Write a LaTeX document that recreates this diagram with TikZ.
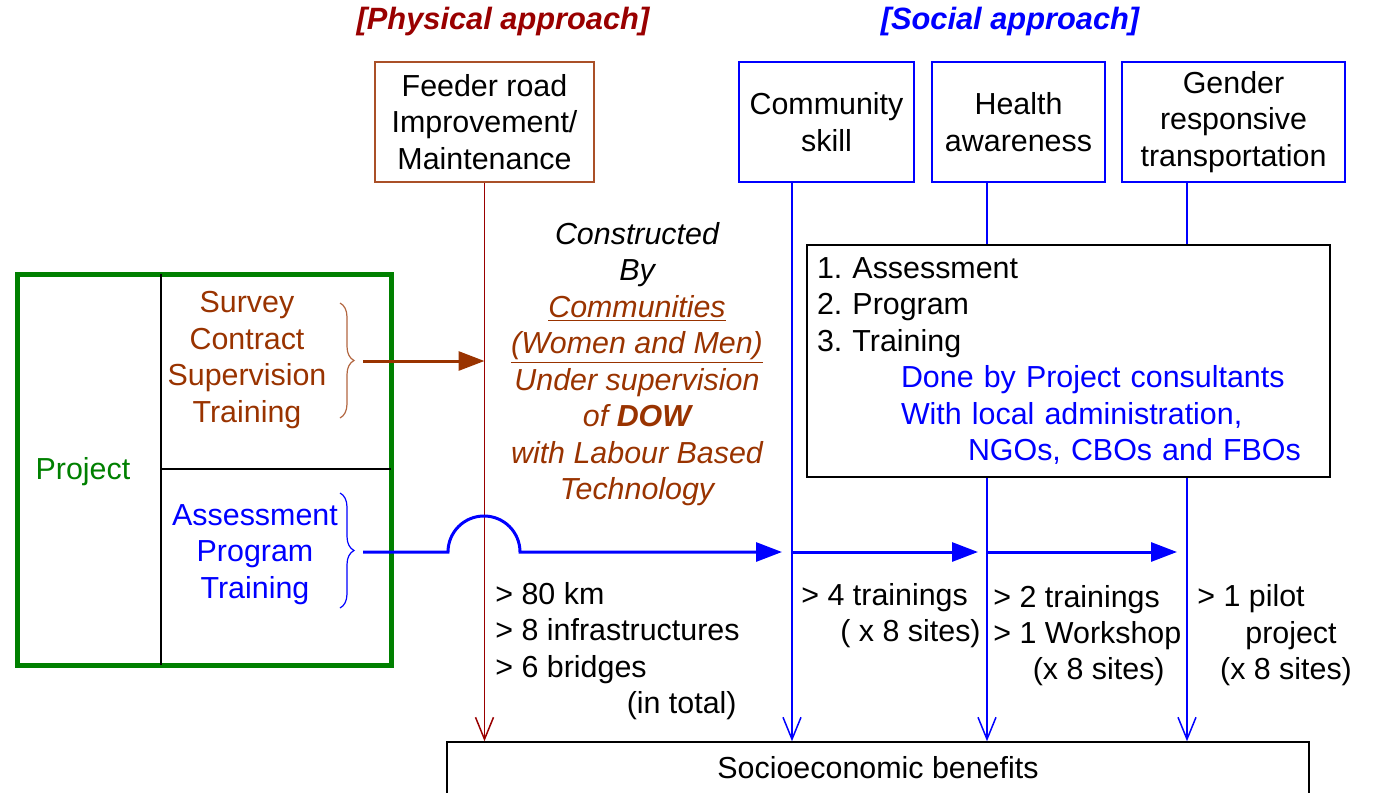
\documentclass[tikz,border=0pt]{standalone}
\usepackage{fontspec}
\setmainfont{Liberation Sans}
\usetikzlibrary{positioning,arrows.meta,decorations.pathreplacing}

\definecolor{physred}{RGB}{153,0,0}
\definecolor{brownc}{RGB}{153,51,0}
\definecolor{boxbrown}{RGB}{170,80,40}
\definecolor{projgreen}{RGB}{0,128,0}

\begin{document}
\frenchspacing
\begin{tikzpicture}[x=0.5pt,y=-0.5pt]
    \tikzset{every node/.style={inner sep=0,font=\fontsize{15.2}{18.25}\selectfont},
             header/.style={font=\fontsize{15.4}{18.25}\selectfont\bfseries\itshape},
             physbox/.style={draw=boxbrown,line width=0.75pt,align=center,minimum height=60pt},
             socbox/.style={draw=blue,line width=0.75pt,align=center,minimum height=60pt},
             physline/.style={draw=physred,line width=0.75pt,-{Straight Barb[length=11pt,width=9pt]}},
             socline/.style={draw=blue,line width=0.75pt,-{Straight Barb[length=11pt,width=9pt]}},
             flow/.style={line width=1.5pt,-{Triangle[length=13pt,width=9.5pt]}},
             bracket/.style={decorate,decoration={brace,amplitude=7pt},line width=0.6pt}}
    \clip (0,0) rectangle (1373,793);
    \useasboundingbox (0,0) rectangle (1373,793);

    % headers
    \node[header,text=physred] (physhdr) at (503,22) {[Physical approach]};
    \node[header,text=blue] (sochdr) at (1010,22) {[Social approach]};

    % top boxes
    \node[physbox,minimum width=109.5pt] (feeder) at (484.5,122) {Feeder road\\Improvement/\\Maintenance};
    \node[socbox,minimum width=87.5pt] (comm) at (826.5,122) {Community\\skill};
    \node[socbox,minimum width=86.5pt] (health) at (1018.5,122) {Health\\awareness};
    \node[socbox,minimum width=111.5pt] (gender) at (1233.5,122) {Gender\\responsive\\transportation};

    % social activities box
    \node[draw,line width=0.75pt,minimum width=261.5pt,minimum height=116pt,text width=251.5pt,
          inner xsep=5pt,align=left] (assess) at (1068.5,361)
        {1. Assessment\\2. Program\\3. Training\\
         \hspace*{42pt}\textcolor{blue}{Done by Project consultants}\\
         \hspace*{42pt}\textcolor{blue}{With local administration,}\\
         \hspace*{75.5pt}\textcolor{blue}{NGOs, CBOs and FBOs}};

    % result box
    \node[draw,line width=0.75pt,minimum width=431pt,minimum height=26pt] (socio) at (878,768) {Socioeconomic benefits};

    % project box
    \draw[projgreen,line width=2.5pt] (17,274) rectangle (391,665);
    \draw[line width=1pt] (161,274) -- (161,665);
    \draw[line width=1pt] (161,469) -- (391,469);
    \node[text=projgreen] (project) at (83,472) {Project};
    \node[text=brownc,align=center] (physact) at (247,360) {Survey\\Contract\\Supervision\\Training};
    \node[text=blue,align=center] (socact) at (255,554.5) {Assessment\\Program\\Training};

    % braces
    \draw[bracket,draw=brownc!75] (340,303) -- (340,418);
    \draw[bracket,draw=blue] (340,493) -- (340,608);

    % junction points on the social flow
    \coordinate (sb) at (363,361);
    \coordinate (bb) at (363,552);
    \coordinate (hopin) at (448,552);
    \coordinate (hc) at (792,552);
    \coordinate (hh) at (987,552);
    \coordinate (hg) at (1187,552);

    % vertical connectors
    \draw[physline] (feeder.south) -- (feeder.south |- socio.north);
    \draw[socline] (comm.south -| hc) -- (socio.north -| hc);
    \draw[draw=blue,line width=0.75pt] (health.south -| hh) -- (assess.north -| hh);
    \draw[socline] (assess.south -| hh) -- (socio.north -| hh);
    \draw[draw=blue,line width=0.75pt] (gender.south -| hg) -- (assess.north -| hg);
    \draw[socline] (assess.south -| hg) -- (socio.north -| hg);

    % flows
    \draw[flow,draw=brownc] (sb) -- (feeder.south |- sb);
    \draw[flow,draw=blue,shorten >=5pt] (bb) -- (hopin) arc[start angle=180,end angle=360,radius=36] -- (hc);
    \draw[flow,draw=blue,shorten >=4.5pt] (hc) -- (hh);
    \draw[flow,draw=blue,shorten >=5pt] (hh) -- (hg);

    % construction note
    \node[text=brownc,align=center,font=\fontsize{15.2}{18.25}\selectfont\itshape] (built) at (637,364)
        {\textcolor{black}{Constructed}\\\textcolor{black}{By}\\\underline{Communities}\\\underline{(Women and Men)}\\
         Under supervision\\of \textbf{DOW}\\with Labour Based\\Technology};

    % outputs
    \node[anchor=west,align=left] (roadout) at (495,633) {> 80 km\\> 8 infrastructures\\> 6 bridges};
    \node[anchor=east] (roadtot) at (737,706) {(in total)};
    \node[anchor=west] (commout) at (801,598) {> 4 trainings};
    \node[anchor=east] (commsite) at (981,634) {( x 8 sites)};
    \node[anchor=west,align=left] (healthout) at (993,617.5) {> 2 trainings\\> 1 Workshop};
    \node[anchor=east] (healthsite) at (1165,672) {(x 8 sites)};
    \node[anchor=west] (genderout) at (1197,599) {> 1 pilot};
    \node (genderproj) at (1291,636) {project};
    \node (gendersite) at (1286,672) {(x 8 sites)};
\end{tikzpicture}
\end{document}
